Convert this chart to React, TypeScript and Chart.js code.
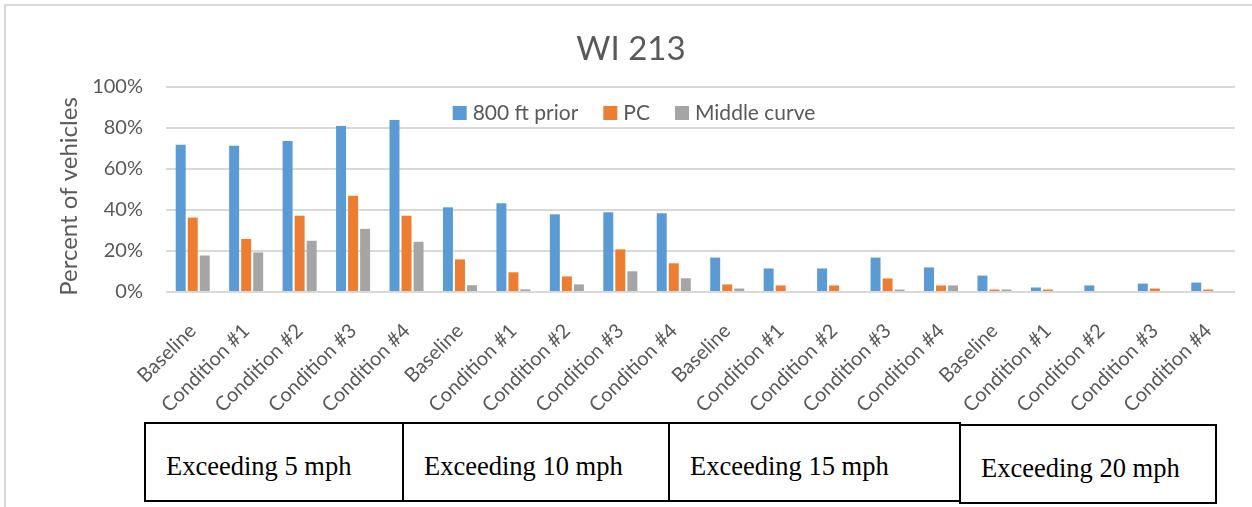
import React, { useEffect, useRef } from "react";
import Chart from "chart.js/auto";

const categories = [
  "Baseline", "Condition #1", "Condition #2", "Condition #3", "Condition #4",
  "Baseline", "Condition #1", "Condition #2", "Condition #3", "Condition #4",
  "Baseline", "Condition #1", "Condition #2", "Condition #3", "Condition #4",
  "Baseline", "Condition #1", "Condition #2", "Condition #3", "Condition #4",
];
const prior800 = [71.8, 71.3, 73.7, 81.0, 83.9, 41.3, 43.3, 37.9, 38.9, 38.4, 16.8, 11.5, 11.5, 16.8, 12.0, 8.0, 2.2, 3.2, 4.1, 4.6];
const pcValues = [36.3, 25.9, 37.2, 46.9, 37.2, 15.9, 9.6, 7.6, 20.8, 14.0, 3.7, 3.2, 3.2, 6.6, 3.2, 1.2, 1.2, 0, 1.7, 1.2];
const middleCurve = [17.8, 19.3, 25.0, 30.8, 24.5, 3.3, 1.3, 3.7, 10.1, 6.7, 1.7, 0, 0, 1.2, 3.2, 1.2, 0, 0, 0, 0];
const seriesNames = ["800 ft prior", "PC", "Middle curve"];
const seriesColors = ["#5B9BD5", "#ED7D31", "#A5A5A5"];
const yTicks = [0, 20, 40, 60, 80, 100];
const groupLabels = ["Exceeding 5 mph", "Exceeding 10 mph", "Exceeding 15 mph", "Exceeding 20 mph"];
const chartTitle = "WI 213";
const yTitle = "Percent of vehicles";

const TEXT = "#595959";
const FONT = "Lato, 'Noto Sans', sans-serif";

const boxes = [
  { left: 144, top: 422, width: 260, height: 80, baseline: 475 },
  { left: 402, top: 422, width: 268, height: 80, baseline: 475 },
  { left: 668, top: 422, width: 293, height: 80, baseline: 475 },
  { left: 959, top: 424, width: 258, height: 80, baseline: 477 },
];

const inlineLegend = {
  id: "inlineLegend",
  afterDraw(chart: any) {
    const ctx = chart.ctx;
    const ds = chart.data.datasets;
    ctx.save();
    ctx.font = `21px ${FONT}`;
    const sq = 14, gapText = 6, gapItem = 25;
    const widths = ds.map((d: any) => ctx.measureText(d.label).width);
    const total = widths.reduce((a: number, w: number) => a + sq + gapText + w, 0) + gapItem * (ds.length - 1);
    let x = 634 - total / 2;
    const y = chart.chartArea.top + 26;
    ds.forEach((d: any, i: number) => {
      ctx.fillStyle = d.backgroundColor;
      ctx.fillRect(x, y - sq / 2, sq, sq);
      ctx.fillStyle = TEXT;
      ctx.textBaseline = "middle";
      ctx.textAlign = "left";
      ctx.fillText(d.label, x + sq + gapText, y);
      x += sq + gapText + widths[i] + gapItem;
    });
    ctx.restore();
  },
};

const yAxisTitle = {
  id: "yAxisTitle",
  afterDraw(chart: any) {
    const ctx = chart.ctx;
    ctx.save();
    ctx.font = `24px ${FONT}`;
    ctx.fillStyle = TEXT;
    ctx.translate(77, 196.5);
    ctx.rotate(-Math.PI / 2);
    ctx.textAlign = "center";
    ctx.textBaseline = "alphabetic";
    ctx.fillText(yTitle, 0, 0);
    ctx.restore();
  },
};

export default function App() {
  const ref = useRef<HTMLCanvasElement | null>(null);
  useEffect(() => {
    if (!ref.current) return;
    const values = [prior800, pcValues, middleCurve];
    const chart = new Chart(ref.current, {
      type: "bar",
      data: {
        labels: categories,
        datasets: values.map((v, i) => ({
          label: seriesNames[i],
          data: v,
          backgroundColor: seriesColors[i],
          borderWidth: 0,
          categoryPercentage: 0.675,
          barPercentage: 0.83,
        })),
      },
      options: {
        animation: false,
        responsive: false,
        devicePixelRatio: 1,
        layout: { padding: { left: 27, right: 17, top: 0, bottom: 0 } },
        plugins: {
          legend: { display: false },
          tooltip: { enabled: false },
          title: {
            display: true,
            text: chartTitle,
            color: TEXT,
            font: { family: FONT, size: 33, weight: "normal" },
            padding: { top: 30, bottom: 17.4 },
          },
        },
        scales: {
          x: {
            grid: { display: false },
            border: { display: false },
            ticks: {
              autoSkip: false,
              maxRotation: 45,
              minRotation: 45,
              color: TEXT,
              font: { family: FONT, size: 20 },
              padding: 19,
            },
            afterFit: (s: any) => { s.height = 128; },
          },
          y: {
            min: 0,
            max: 100,
            border: { display: false },
            grid: { color: "#D9D9D9", lineWidth: 2, drawTicks: false },
            afterBuildTicks: (s: any) => { s.ticks = yTicks.map((v) => ({ value: v })); },
            ticks: {
              color: TEXT,
              font: { family: FONT, size: 20 },
              padding: 23,
              callback: (v: any) => `${v}%`,
            },
            title: { display: false },
            afterFit: (s: any) => { s.width = 139; },
          },
        },
      },
      plugins: [inlineLegend, yAxisTitle],
    });
    return () => chart.destroy();
  }, []);

  return (
    <div style={{ position: "absolute", left: 0, top: 0, width: 1252, height: 507, background: "#fff", overflow: "hidden" }}>
      <div style={{ position: "absolute", left: 4, top: 4, width: 1248, height: 2, background: "#D9D9D9" }} />
      <div style={{ position: "absolute", left: 4, top: 4, width: 2, height: 503, background: "#D9D9D9" }} />
      <canvas ref={ref} width={1252} height={420} style={{ position: "absolute", left: 0, top: 0, width: 1252, height: 420 }} />
      {boxes.map((b, i) => (
        <div key={i} style={{ position: "absolute", left: b.left, top: b.top, width: b.width, height: b.height, boxSizing: "border-box", border: "2px solid #000", background: "transparent" }}>
          <span style={{ position: "absolute", left: 20, top: b.baseline - b.top - 2 - 22, fontFamily: "'Liberation Serif', 'Times New Roman', serif", fontSize: 26.5, lineHeight: "26px", color: "#000", whiteSpace: "nowrap" }}>
            {groupLabels[i]}
          </span>
        </div>
      ))}
    </div>
  );
}
